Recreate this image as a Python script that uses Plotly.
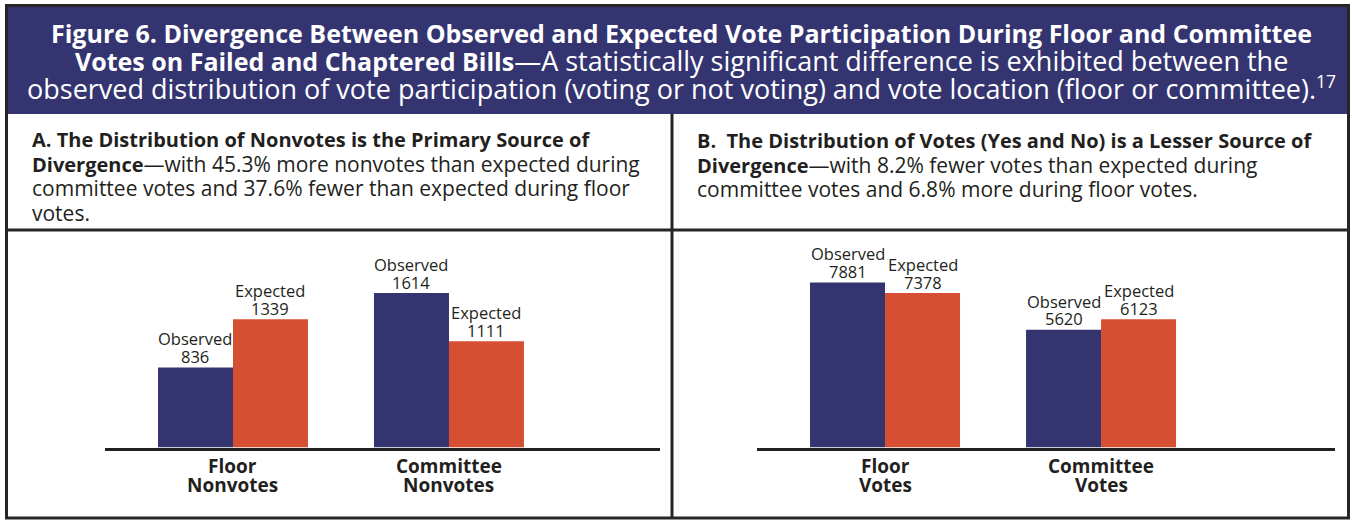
import plotly.graph_objects as go

W, H = 1352, 521

# ---- data ----
cats_a = ["Floor Nonvotes", "Committee Nonvotes"]
cat_a_line1 = ["Floor", "Committee"]
cat_a_line2 = ["Nonvotes", "Nonvotes"]
observed_a = [836, 1614]
expected_a = [1339, 1111]

cats_b = ["Floor Votes", "Committee Votes"]
cat_b_line1 = ["Floor", "Committee"]
cat_b_line2 = ["Votes", "Votes"]
observed_b = [7881, 5620]
expected_b = [7378, 6123]

series_names = ["Observed", "Expected"]

NAVY = "#343570"
ORANGE = "#d74f32"
TXT = "#231f20"
BORDER = "#262626"
FONT = "Open Sans"


def px(x):
    return x / W


def py(y):
    return 1 - y / H


def reg(t, size):
    return f'<span style="font-size:{size}px">{t}</span>'


fig = go.Figure()

panels = [
    ("x", "y", cats_a, observed_a, expected_a, cat_a_line1, cat_a_line2),
    ("x2", "y2", cats_b, observed_b, expected_b, cat_b_line1, cat_b_line2),
]

annotations = []
for xa, ya, cats, obs, exp, l1, l2 in panels:
    for name, vals, col, sh in [(series_names[0], obs, NAVY, -37.5),
                                (series_names[1], exp, ORANGE, 37.5)]:
        fig.add_trace(go.Bar(x=cats, y=vals, name=name, marker_color=col,
                             marker_line_width=0, xaxis=xa, yaxis=ya,
                             showlegend=False, hoverinfo="x+y"))
        for c, v in zip(cats, vals):
            annotations.append(dict(x=c, y=v, xref=xa, yref=ya, xshift=sh, yshift=11,
                                    text=f"{v}", showarrow=False, yanchor="middle",
                                    font=dict(family=FONT, size=16.5, color=TXT)))
            annotations.append(dict(x=c, y=v, xref=xa, yref=ya, xshift=sh, yshift=28.5,
                                    text=name, showarrow=False, yanchor="middle",
                                    font=dict(family=FONT, size=16.5, color=TXT)))
    for c, a, b in zip(cats, l1, l2):
        annotations.append(dict(x=c, y=0, xref=xa, yref=ya, yshift=-18,
                                text=f"<b>{a}</b>", showarrow=False, yanchor="middle",
                                font=dict(family=FONT, size=19, color=TXT)))
        annotations.append(dict(x=c, y=0, xref=xa, yref=ya, yshift=-37.5,
                                text=f"<b>{b}</b>", showarrow=False, yanchor="middle",
                                font=dict(family=FONT, size=19, color=TXT)))

# ---- title banner text ----
TB, TR = 25, 27
title_lines = [
    ("<b>Figure 6. Divergence Between Observed and Expected Vote Participation During Floor and Committee</b>", 33),
    ("<b>Votes on Failed and Chaptered Bills</b>"
     + reg("—A statistically significant difference is exhibited between the", TR), 60.5),
    (reg("observed distribution of vote participation (voting or not voting) and vote location (floor or committee).", TR)
     + '<sup>17</sup>', 88),
]
for t, yy in title_lines:
    annotations.append(dict(x=px(681), y=py(yy), xref="paper", yref="paper", text=t,
                            showarrow=False, xanchor="center", yanchor="middle",
                            font=dict(family=FONT, size=TB, color="white")))

HB, HR = 20, 21
head_a = [
    ("<b>A. The Distribution of Nonvotes is the Primary Source of</b>", 139.5),
    ("<b>Divergence</b>" + reg("—with 45.3% more nonvotes than expected during", HR), 164),
    (reg("committee votes and 37.6% fewer than expected during floor", HR), 188.5),
    (reg("votes.", HR), 212.5),
]
head_b = [
    ("<b>B.\u00a0 The Distribution of Votes (Yes and No) is a Lesser Source of</b>", 140),
    ("<b>Divergence</b>" + reg("—with 8.2% fewer votes than expected during", HR), 164.5),
    (reg("committee votes and 6.8% more during floor votes.", HR), 189),
]
for lines, x0 in [(head_a, 30), (head_b, 695)]:
    for t, yy in lines:
        annotations.append(dict(x=px(x0), y=py(yy), xref="paper", yref="paper", text=t,
                                showarrow=False, xanchor="left", yanchor="middle",
                                font=dict(family=FONT, size=HB, color=TXT)))

shapes = [
    dict(type="rect", xref="paper", yref="paper", x0=px(6), x1=px(1348), y0=py(114), y1=py(5),
         fillcolor=NAVY, line=dict(width=0), layer="below"),
    dict(type="rect", xref="paper", yref="paper", x0=px(6.5), x1=px(1348.5), y0=py(518), y1=py(5.5),
         line=dict(color=BORDER, width=3)),
    dict(type="line", xref="paper", yref="paper", x0=px(6), x1=px(1349), y0=py(230), y1=py(230),
         line=dict(color=BORDER, width=3)),
    dict(type="line", xref="paper", yref="paper", x0=px(672), x1=px(672), y0=py(114), y1=py(518),
         line=dict(color=BORDER, width=3)),
]

ydom = [py(447.5), py(240)]
axis_common = dict(showline=True, linecolor=TXT, linewidth=3, showticklabels=False,
                   ticks="", showgrid=False, zeroline=False, fixedrange=True)
fig.update_layout(
    width=W, height=H,
    margin=dict(l=0, r=0, t=0, b=0),
    paper_bgcolor="white", plot_bgcolor="rgba(0,0,0,0)",
    barmode="group", bargap=0.3056, bargroupgap=0,
    xaxis=dict(domain=[px(105), px(660)], range=[-0.5926, 1.977], anchor="y", **axis_common),
    yaxis=dict(domain=ydom, range=[0, 2168], visible=False, fixedrange=True, anchor="x"),
    xaxis2=dict(domain=[px(757), px(1335)], range=[-0.5926, 2.083], anchor="y2", **axis_common),
    yaxis2=dict(domain=ydom, range=[0, 9910], visible=False, fixedrange=True, anchor="x2"),
    annotations=annotations,
    shapes=shapes,
)

fig.write_html("out.html", config={"displayModeBar": False},
               post_script="document.body.style.margin='0';document.body.style.overflow='hidden';")
